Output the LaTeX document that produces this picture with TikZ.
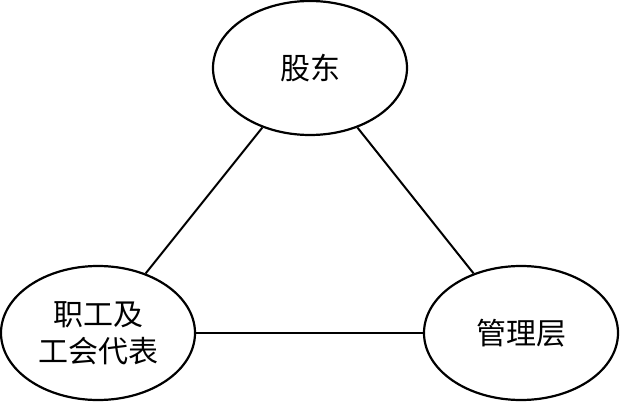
\documentclass[tikz,border=0pt]{standalone}
\usepackage{fontspec}
\newfontfamily\cjk{Noto Sans CJK SC}
\usetikzlibrary{shapes.geometric}
\begin{document}
\begin{tikzpicture}[x=1pt,y=-1pt,
  party/.style={ellipse,draw,line width=2.2pt,minimum width=194pt,minimum height=134pt,inner sep=0pt,font=\cjk\fontsize{30}{37}\selectfont,align=center},
  link/.style={line width=2pt}]
\useasboundingbox (0,0) rectangle (620,403);
\node[party] (gd) at (310,68) {股东};
\node[party] (zg) at (98,333) {职工及\\工会代表};
\node[party] (gl) at (521,333) {管理层};
\draw[link] (gd) -- (zg);
\draw[link] (gd) -- (gl);
\draw[link] (zg) -- (gl);
\end{tikzpicture}
\end{document}
